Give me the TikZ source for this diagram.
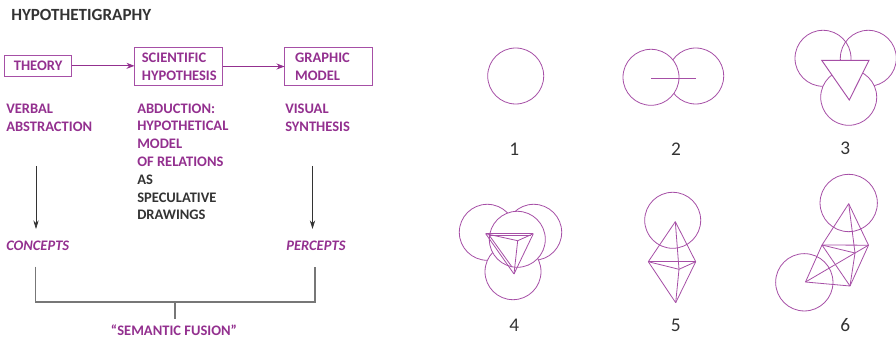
\documentclass[tikz,border=0pt]{standalone}
\usepackage{xcolor}
\usepackage{fontspec}
\setmainfont{Carlito}
\definecolor{accent1}{HTML}{93308F}
\definecolor{accent2}{HTML}{333333}
\definecolor{accent3}{HTML}{777777}
\definecolor{accent4}{HTML}{A64FA6}
\usepackage{tikz}
\usetikzlibrary{positioning,arrows.meta}

\begin{document}
\begin{tikzpicture}[x=0.75pt, y=-0.75pt,
    ring/.style={circle, draw=accent4, fill=white, line width=0.6pt, inner sep=0pt, outer sep=0pt, minimum size=42pt},
    edge/.style={draw=accent4, line width=0.6pt},
    solid face/.style={draw=accent4, fill=white, line width=0.7pt},
    box/.style={draw=accent4, line width=0.7pt, outer sep=0pt, inner ysep=0pt, align=left, font=\fontsize{10.9}{13.3}\selectfont\bfseries, text=accent1},
    label/.style={anchor=west, inner sep=0pt, align=left, font=\fontsize{10.9}{13.3}\selectfont\bfseries, text=accent1},
    number/.style={inner sep=0pt, font=\fontsize{14.5}{16}\selectfont, text=accent2},
    flow/.style={draw=accent1, line width=0.6pt, -{Stealth[length=6pt, width=4.5pt]}},
    down/.style={draw=accent2, line width=0.5pt, -{Stealth[length=6.5pt, width=4pt]}},
    brace/.style={draw=accent3, line width=0.8pt}]
  \useasboundingbox (0,0) rectangle (896,338);
  % Left: the scheme
  \node[label, text=accent2, font=\fontsize{12.8}{14}\selectfont\bfseries] (title) at (11,15) {HYPOTHETIGRAPHY};
  \node[box, anchor=north west, minimum width=50.4pt, minimum height=15.5pt, inner xsep=0pt] (theory) at (4.5,55.5) {THEORY};
  \node[box, anchor=north west, text width=55pt, minimum height=28.5pt, inner xsep=5.5pt] (hypothesis) at (134.5,47.5) {SCIENTIFIC\\HYPOTHESIS};
  \node[box, anchor=north west, text width=50pt, minimum height=28.5pt, inner xsep=8pt] (model) at (284.5,47.5) {GRAPHIC\\MODEL};
  \draw[flow] (theory.east) -- (theory.east -| hypothesis.west);
  \draw[flow] (hypothesis.east) -- (hypothesis.east -| model.west);
  \node[label] (verbal) at (6,117.5) {VERBAL\\ABSTRACTION};
  \node[label] (abduction) at (137,135) {ABDUCTION:\\HYPOTHETICAL\\MODEL\\OF RELATIONS};
  \node[label, text=accent2] (speculative) at (137,197.5) {AS\\SPECULATIVE\\DRAWINGS};
  \node[label] (visual) at (285,117.5) {VISUAL\\SYNTHESIS};
  \node[label, font=\fontsize{10.9}{13.3}\selectfont\bfseries\itshape] (concepts) at (6,245.5) {CONCEPTS};
  \node[label, font=\fontsize{10.9}{13.3}\selectfont\bfseries\itshape] (percepts) at (286,245.5) {PERCEPTS};
  \coordinate (concepts top) at (36,166);
  \coordinate (concepts end) at (36,229);
  \coordinate (percepts top) at (312.5,166);
  \coordinate (percepts end) at (312.5,229);
  \draw[down] (concepts top) -- (concepts end);
  \draw[down] (percepts top) -- (percepts end);
  \node[label, anchor=center] (fusion) at (174,330.5) {“SEMANTIC FUSION”};
  \coordinate (brace left) at (35.5,266.7);
  \coordinate (brace right) at (315,266.7);
  \coordinate (brace mid) at (175,302);
  \coordinate (brace stem) at (175,318.7);
  \draw[brace] (brace left) |- (brace mid) -| (brace right);
  \draw[brace] (brace mid) -- (brace stem);
  % Right: the six figures
  \node[ring] (one) at (515.7,76) {};
  \node[number] (n1) at (514.3,149.3) {1};
  \node[ring] (two r) at (695.7,76) {};
  \node[ring] (two l) at (651,77.3) {};
  \coordinate (a2) at (651,78.3);
  \coordinate (b2) at (696,78.3);
  \draw[edge] (a2) -- (b2);
  \node[number] (n2) at (676,149.3) {2};
  \node[ring] (three l) at (823,58.3) {};
  \node[ring, fill=none] (three r) at (868.3,58.3) {};
  \node[ring] (three b) at (848.7,97.3) {};
  \filldraw[solid face] (821.7,60.3) -- (869,60.3) -- (849.3,100) -- cycle;
  \node[number] (n3) at (845.3,148.7) {3};
  \node[ring] (four l) at (487.3,232.3) {};
  \node[ring] (four r) at (533.7,232.3) {};
  \node[ring] (four b) at (513,271.7) {};
  \node[ring] (four m) at (517.3,239.3) {};
  \coordinate (a4) at (485.7,233.7);
  \coordinate (b4) at (533.3,233.7);
  \coordinate (c4) at (514,274);
  \coordinate (d4) at (517.7,240.7);
  \coordinate (e4) at (489,235);
  \coordinate (f4) at (531,235);
  \coordinate (g4) at (512,267);
  \foreach \a/\b in {a4/b4, a4/c4, b4/c4, a4/d4, b4/d4, d4/c4, e4/f4, e4/g4}
    \draw[edge] (\a) -- (\b);
  \node[number] (n4) at (514.3,325) {4};
  \node[ring] (five) at (672.7,220.3) {};
  \coordinate (a5) at (675.3,221.7);
  \coordinate (b5) at (648.3,261.7);
  \coordinate (c5) at (695.7,261.7);
  \coordinate (d5) at (675.7,302.7);
  \coordinate (e5) at (679,269.3);
  \foreach \a/\b in {a5/b5, a5/c5, b5/c5, b5/e5, c5/e5, a5/e5, e5/d5, b5/d5, c5/d5}
    \draw[edge] (\a) -- (\b);
  \node[number] (n5) at (675.7,325) {5};
  \node[ring, minimum size=43pt] (six t) at (848.7,203) {};
  \node[ring, minimum size=43pt] (six l) at (804.3,282.3) {};
  \coordinate (a6) at (848.7,203.7);
  \coordinate (b6) at (822,245);
  \coordinate (c6) at (868.5,245.2);
  \coordinate (d6) at (855,253);
  \coordinate (e6) at (850,286);
  \coordinate (f6) at (805.5,282);
  \foreach \a/\b in {a6/b6, a6/c6, a6/d6, b6/c6, b6/d6, c6/d6, d6/e6, c6/e6, b6/e6, b6/f6, f6/e6, f6/d6}
    \draw[edge] (\a) -- (\b);
  \node[number] (n6) at (845.3,325) {6};
\end{tikzpicture}
\end{document}
